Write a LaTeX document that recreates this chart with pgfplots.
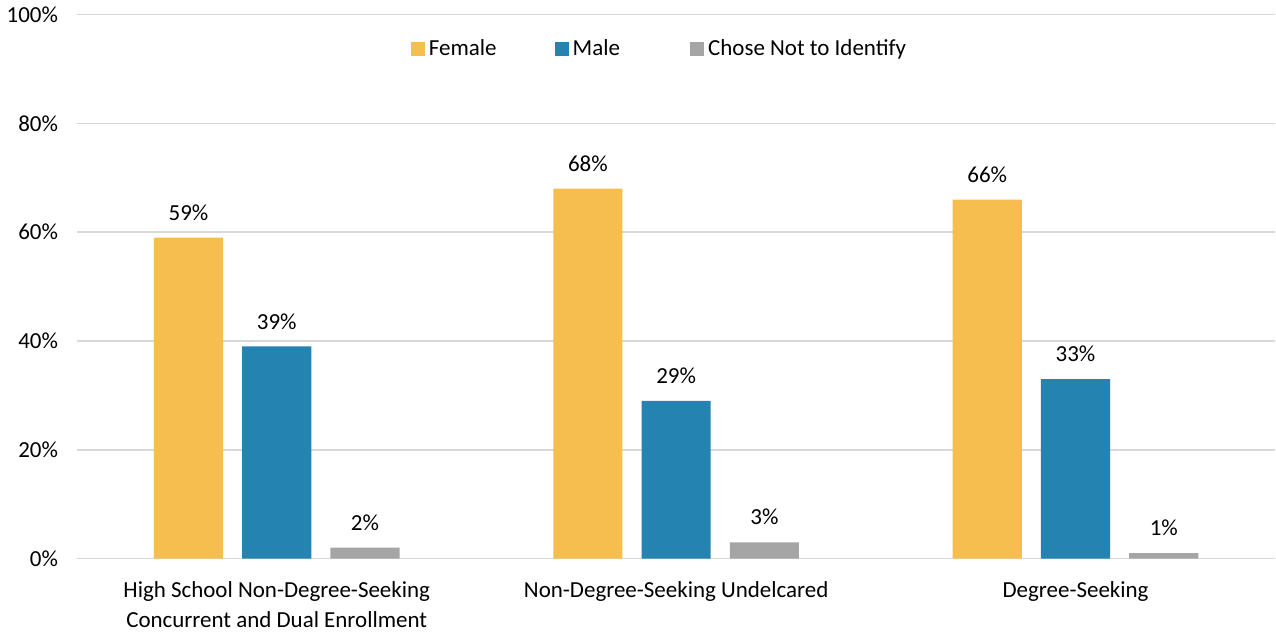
\documentclass[border=0pt]{standalone}
\usepackage{fontspec}
\setmainfont{Carlito}
\usepackage{pgfplots}
\pgfplotsset{compat=1.18}
\definecolor{fem}{HTML}{F6BE4F}
\definecolor{mal}{HTML}{2583B1}
\definecolor{ncn}{HTML}{A5A5A5}
\definecolor{gridc}{HTML}{D9D9D9}
\begin{document}
\begin{tikzpicture}
\begin{axis}[
    width=598bp, height=271.5bp, scale only axis,
    ybar, bar width=0.173,
    xmin=-0.5, xmax=2.5, ymin=0, ymax=100,
    xtick={0,1,2},
    xticklabels={{High School Non-Degree-Seeking\\Concurrent and Dual Enrollment},
                 {Non-Degree-Seeking Undelcared},{Degree-Seeking}},
    xticklabel style={align=center, font=\fontsize{11.5}{15}\selectfont, yshift=-8bp},
    ytick={0,20,...,100},
    yticklabel={\pgfmathprintnumber{\tick}\%},
    yticklabel style={font=\fontsize{11.5}{14}\selectfont, xshift=-6bp},
    /pgf/number format/assume math mode=true,
    major tick length=0pt,
    ymajorgrids, grid style={gridc, line width=0.8pt},
    axis x line*=bottom, axis y line*=left,
    x axis line style={gridc, line width=0.8pt, -},
    y axis line style={draw=none},
    nodes near coords={\pgfmathprintnumber{\pgfplotspointmeta}\%},
    nodes near coords style={font=\fontsize{11.5}{14}\selectfont, black, yshift=5bp},
    legend style={at={(0.487,0.937)}, anchor=center, draw=none, fill=none,
        legend columns=3, font=\fontsize{11.5}{14}\selectfont,
        /tikz/column 2/.style={column sep=27bp},
        /tikz/column 4/.style={column sep=33bp}},
    legend image code/.code={\fill[#1] (0bp,-3.5bp) rectangle (7bp,3.5bp);},
]
\addplot[fill=fem, draw=none, bar shift=-0.221] coordinates {(0,59) (1,68) (2,66)};
\addplot[fill=mal, draw=none, bar shift=0] coordinates {(0,39) (1,29) (2,33)};
\addplot[fill=ncn, draw=none, bar shift=0.221] coordinates {(0,2) (1,3) (2,1)};
\legend{Female, Male, Chose Not to Identify}
\end{axis}
\end{tikzpicture}
\end{document}
